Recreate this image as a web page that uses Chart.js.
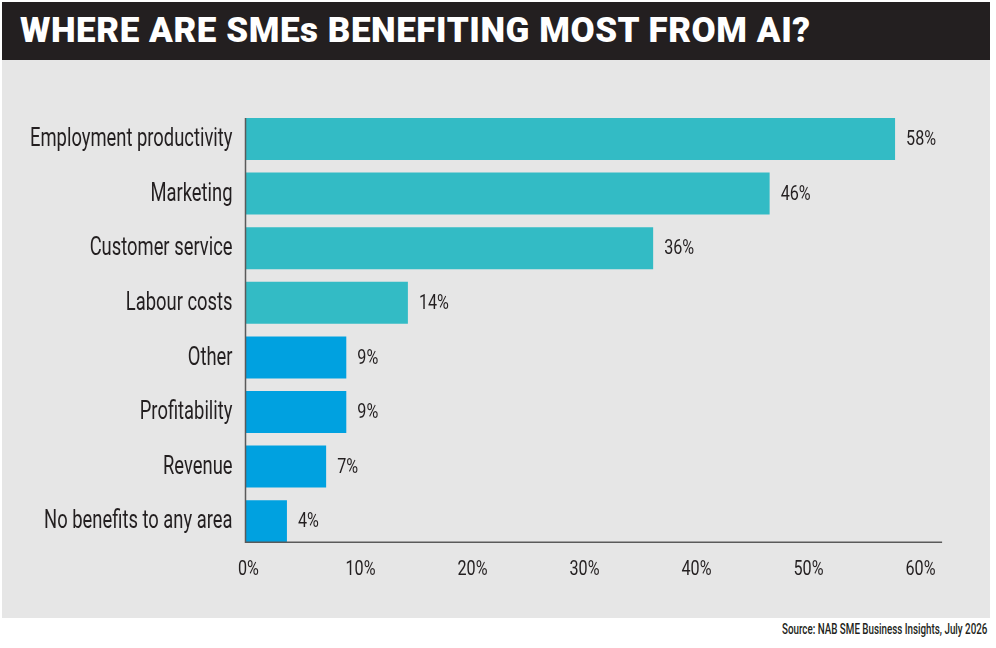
<!DOCTYPE html>
<html>
<head>
<meta charset="utf-8">
<script src="https://cdn.jsdelivr.net/npm/chart.js@4.4.1/dist/chart.umd.min.js"></script>
<style>
  html, body { margin: 0; padding: 0; background: #fff; }
  body { width: 996px; height: 648px; position: relative; overflow: hidden; }
  .title-bar {
    position: absolute; left: 2px; top: 2px; width: 988px; height: 58px;
    background: #231f20;
  }
  .title-bar h1 {
    margin: 0; position: absolute; left: 18px; top: 9px;
    font-family: Roboto, "Noto Sans", sans-serif; font-weight: 900;
    font-size: 35px; line-height: 40px; color: #fff; letter-spacing: 0.55px;
    white-space: nowrap;
  }
  .panel {
    position: absolute; left: 2px; top: 60px; width: 988px; height: 558px;
    background: #e6e6e6;
  }
  .source {
    position: absolute; right: 9px; top: 621px;
    font-family: Roboto, sans-serif; font-size: 14px; font-weight: 500;
    color: #231f20; white-space: nowrap;
    transform: scaleX(0.7); transform-origin: right center;
  }
</style>
</head>
<body>
<div class="title-bar"><h1>WHERE ARE SMEs BENEFITING MOST FROM AI?</h1></div>
<div class="panel"><canvas id="chart" width="988" height="558"></canvas></div>
<div class="source">Source: NAB SME Business Insights, July 2026</div>

<script>
// categories, values (bar lengths) and printed labels
const areas = [
  "Employment productivity", "Marketing", "Customer service", "Labour costs",
  "Other", "Profitability", "Revenue", "No benefits to any area"
];
const shares = [58, 46.8, 36.4, 14.5, 9, 9, 7.2, 3.7];
const shareLabels = ["58%", "46%", "36%", "14%", "9%", "9%", "7%", "4%"];
const barColors = [
  "#33bbc5", "#33bbc5", "#33bbc5", "#33bbc5",
  "#00a1e0", "#00a1e0", "#00a1e0", "#00a1e0"
];
const xTicks = [0, 10, 20, 30, 40, 50, 60];

const ink = '#231f20';

// no condensed face installed, so squeeze Roboto sideways
function condensedText(ctx, text, x, y, align, size, squeeze) {
  ctx.save();
  ctx.font = size + 'px Roboto, sans-serif';
  ctx.fillStyle = ink;
  ctx.textAlign = align;
  ctx.textBaseline = 'middle';
  ctx.translate(x, y);
  ctx.scale(squeeze, 1);
  ctx.fillText(text, 0, 0);
  ctx.restore();
}

// axis lines run from the first bar's top to the last bar's bottom
const axisLines = {
  id: 'axisLines',
  afterDatasetsDraw(chart) {
    const bars = chart.getDatasetMeta(0).data;
    if (!bars.length) return;
    const first = bars[0], last = bars[bars.length - 1];
    const x0 = chart.scales.x.getPixelForValue(0);
    const top = first.y - first.height / 2;
    const bottom = last.y + last.height / 2;
    const ctx = chart.ctx;
    ctx.save();
    ctx.strokeStyle = '#5a5a5a';
    ctx.lineWidth = 1.5;
    ctx.beginPath();
    ctx.moveTo(x0, top);
    ctx.lineTo(x0, bottom);
    ctx.lineTo(chart.chartArea.right, bottom);
    ctx.stroke();
    ctx.restore();
  }
};

const textLayer = {
  id: 'textLayer',
  afterDatasetsDraw(chart) {
    const ctx = chart.ctx;
    const xs = chart.scales.x, ys = chart.scales.y;
    // category labels
    areas.forEach((name, i) => {
      condensedText(ctx, name, chart.chartArea.left - 13, ys.getPixelForTick(i) + 1, 'right', 25, 0.735);
    });
    // value labels
    chart.getDatasetMeta(0).data.forEach((bar, i) => {
      condensedText(ctx, shareLabels[i], bar.x + 11, bar.y + 1, 'left', 21, 0.77);
    });
    // x tick labels
    xTicks.forEach(v => {
      condensedText(ctx, v + '%', xs.getPixelForValue(v) + 3, xs.top + 21, 'center', 21, 0.77);
    });
  }
};

const ctx = document.getElementById('chart').getContext('2d');
new Chart(ctx, {
  type: 'bar',
  data: {
    labels: areas,
    datasets: [{
      data: shares,
      backgroundColor: barColors,
      barPercentage: 0.77,
      categoryPercentage: 1
    }]
  },
  plugins: [axisLines, textLayer],
  options: {
    indexAxis: 'y',
    responsive: false,
    animation: false,
    layout: { padding: { top: 51.7, right: 47.9, bottom: 0, left: 0 } },
    plugins: {
      legend: { display: false },
      tooltip: { enabled: false }
    },
    scales: {
      x: {
        min: 0,
        max: 62.2,
        grid: { display: false, drawTicks: false },
        border: { display: false },
        ticks: { display: false },
        afterFit(scale) { scale.height = 69.5; }
      },
      y: {
        grid: { display: false, drawTicks: false },
        border: { display: false },
        ticks: { display: false },
        afterFit(scale) { scale.width = 243.5; }
      }
    }
  }
});
</script>
</body>
</html>
